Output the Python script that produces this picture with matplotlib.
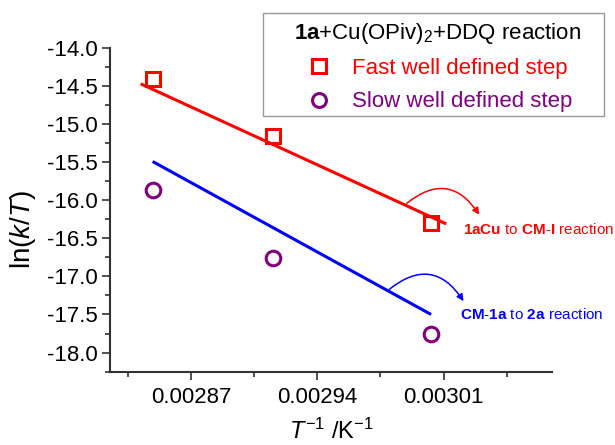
import matplotlib
matplotlib.use("Agg")
import matplotlib.pyplot as plt
from matplotlib.ticker import MultipleLocator, FormatStrFormatter
from matplotlib.lines import Line2D
from matplotlib.patches import Rectangle

plt.rcParams['font.family'] = ['Liberation Sans', 'DejaVu Sans']
plt.rcParams['mathtext.fontset'] = 'custom'
plt.rcParams['mathtext.rm'] = 'Liberation Sans'
plt.rcParams['mathtext.it'] = 'Liberation Sans:italic'
plt.rcParams['mathtext.bf'] = 'Liberation Sans:bold'

# data
inv_T = [0.002849, 0.0029155, 0.003003]
fast_step = [-14.40, -15.15, -16.30]
slow_step = [-15.86, -16.76, -17.76]

# straight lines as drawn in the original
fast_line_x = [0.002842, 0.0030115]
fast_line_y = [-14.47, -16.31]
slow_line_x = [0.0028486, 0.0030031]
slow_line_y = [-15.49, -17.50]

red = '#ff0000'
blue = '#0000ff'
purple = '#800080'

W, H = 615, 445
fig = plt.figure(figsize=(W / 100, H / 100), dpi=100)
ax = fig.add_axes([0.179, 0.165, 0.718, 0.727])

ax.plot(fast_line_x, fast_line_y, color=red, lw=2.2, solid_capstyle='butt')
ax.plot(slow_line_x, slow_line_y, color=blue, lw=2.2, solid_capstyle='butt')
ax.plot(inv_T, fast_step, ls='none', marker='s', ms=10.5, mfc='none', mec=red, mew=2.2)
ax.plot(inv_T, slow_step, ls='none', marker='o', ms=10.5, mfc='none', mec=purple, mew=2.2)

# curved arrows + notes
ax.annotate('', xy=(0.0030298, -16.19), xytext=(0.0029896, -16.04),
            arrowprops=dict(arrowstyle='-|>', color=red, lw=1.1, shrinkA=0, shrinkB=0,
                            connectionstyle='arc3,rad=-0.55', mutation_scale=10))
ax.annotate('', xy=(0.0030211, -17.325), xytext=(0.0029799, -17.17),
            arrowprops=dict(arrowstyle='-|>', color=blue, lw=1.1, shrinkA=0, shrinkB=0,
                            connectionstyle='arc3,rad=-0.55', mutation_scale=10))
ax.text(0.0030208, -16.39, r'$\mathbf{1aCu}$ to $\mathbf{CM}$-$\mathbf{I}$ reaction',
        color=red, fontsize=11, va='center', ha='left')
ax.text(0.0030193, -17.50, r'$\mathbf{CM}$-$\mathbf{1a}$ to $\mathbf{2a}$ reaction',
        color=blue, fontsize=11, va='center', ha='left')

ax.set_xlim(0.002825, 0.00307)
ax.set_ylim(-18.25, -14.0)
ax.xaxis.set_major_locator(MultipleLocator(0.00007))
ax.xaxis.set_minor_locator(MultipleLocator(0.000035))
ax.xaxis.set_major_formatter(FormatStrFormatter('%.5f'))
ax.yaxis.set_major_locator(MultipleLocator(0.5))
ax.yaxis.set_minor_locator(MultipleLocator(0.25))
ax.yaxis.set_major_formatter(FormatStrFormatter('%.1f'))

for s in ['top', 'right']:
    ax.spines[s].set_visible(False)
for s in ['left', 'bottom']:
    ax.spines[s].set_color('#333333')
    ax.spines[s].set_linewidth(1.5)
ax.tick_params(which='major', direction='out', length=6, width=1.2, color='#333333',
               labelsize=16, pad=3)
ax.tick_params(axis='x', which='major', pad=5)
ax.tick_params(which='minor', direction='out', length=3.5, width=1.2, color='#333333')

ax.set_xlabel(r'$\it{T}^{-1}$ /K$^{-1}$', fontsize=17)
ax.xaxis.set_label_coords(0.5, -0.145)
ax.set_ylabel(r'ln($\it{k}$/$\it{T}$)', fontsize=20)
ax.yaxis.set_label_coords(-0.163, 0.44)

# legend: frame drawn separately so it can be wider than its content
fig.patches.append(Rectangle((263 / W, 1 - 116 / H), 341 / W, 103 / H,
                             transform=fig.transFigure, fill=False,
                             edgecolor='#999999', lw=1.0))
handles = [
    Line2D([], [], ls='none', marker='s', ms=10, mfc='none', mec=red, mew=2.2),
    Line2D([], [], ls='none', marker='o', ms=10, mfc='none', mec=purple, mew=2.2),
]
leg = fig.legend(handles, ['Fast well defined step', 'Slow well defined step'],
                 title=r'$\mathbf{1a}$+Cu(OPiv)$_2$+DDQ reaction',
                 loc='upper left', bbox_to_anchor=(275.6 / W, 1 - 2 / H),
                 bbox_transform=fig.transFigure, fontsize=16, title_fontsize=16,
                 frameon=False, handlelength=1.4, handletextpad=0.75,
                 borderpad=0.85, labelspacing=0.55, borderaxespad=0)
for t, c in zip(leg.get_texts(), [red, purple]):
    t.set_color(c)

fig.savefig('out.png', dpi=100)
